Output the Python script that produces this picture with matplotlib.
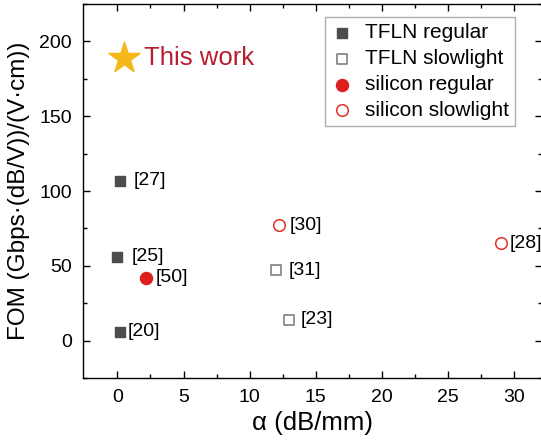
import matplotlib
matplotlib.use("Agg")
import matplotlib.pyplot as plt

plt.rcParams['font.family'] = ['Liberation Sans', 'DejaVu Sans']

# TFLN regular
tfln_reg_x = [0.2, 0.0, 0.2]
tfln_reg_y = [107, 56, 6]
tfln_reg_ref = ["[27]", "[25]", "[20]"]
# TFLN slowlight
tfln_slow_x = [12.0, 13.0]
tfln_slow_y = [47, 14]
tfln_slow_ref = ["[31]", "[23]"]
# silicon regular
si_reg_x = [2.2]
si_reg_y = [42]
si_reg_ref = ["[50]"]
# silicon slowlight
si_slow_x = [12.2, 29.0]
si_slow_y = [77, 65]
si_slow_ref = ["[30]", "[28]"]
# this work
this_x = [0.5]
this_y = [189]

# label offsets in pixels
ref_dx = {"[27]": 14, "[25]": 14, "[20]": 8, "[31]": 13, "[23]": 11,
          "[50]": 9, "[30]": 11, "[28]": 9}

fig = plt.figure(figsize=(5.41, 4.41), dpi=100)
ax = fig.add_axes([83/541, 1-378/441, 459/541, 374/441])

ax.scatter(tfln_reg_x, tfln_reg_y, marker='s', s=55, color='#4d4d4d',
           edgecolor='#4d4d4d', label='TFLN regular', zorder=3)
ax.scatter(tfln_slow_x, tfln_slow_y, marker='s', s=50, facecolor='white',
           edgecolor='#808080', linewidth=1.2, label='TFLN slowlight', zorder=3)
ax.scatter(si_reg_x, si_reg_y, marker='o', s=75, color='#dd1f1c',
           label='silicon regular', zorder=3)
ax.scatter(si_slow_x, si_slow_y, marker='o', s=70, facecolor='white',
           edgecolor='#e0302a', linewidth=1.1, label='silicon slowlight', zorder=3)
ax.scatter(this_x, this_y, marker='*', s=560, color='#f4b81b', zorder=3)

ax.annotate("This work", (this_x[0], this_y[0]), xytext=(20, 0),
            textcoords='offset pixels', ha='left', va='center',
            fontsize=18.5, color='#b5202e')

for xs, ys, refs in [(tfln_reg_x, tfln_reg_y, tfln_reg_ref),
                     (tfln_slow_x, tfln_slow_y, tfln_slow_ref),
                     (si_reg_x, si_reg_y, si_reg_ref),
                     (si_slow_x, si_slow_y, si_slow_ref)]:
    for x, y, r in zip(xs, ys, refs):
        ax.annotate(r, (x, y), xytext=(ref_dx[r], 0), textcoords='offset pixels',
                    ha='left', va='center', fontsize=14)

ax.set_xlim(-2.6, 32.1)
ax.set_ylim(-25, 225)
ax.set_xticks([0, 5, 10, 15, 20, 25, 30])
ax.set_xticks([2.5, 7.5, 12.5, 17.5, 22.5, 27.5], minor=True)
ax.set_yticks([0, 50, 100, 150, 200])
ax.set_yticks([-25, 25, 75, 125, 175, 225], minor=True)
ax.tick_params(which='both', direction='in', top=True, right=True,
               labelsize=14, width=1, pad=8)
ax.tick_params(which='major', length=5)
ax.tick_params(which='minor', length=3)
for sp in ax.spines.values():
    sp.set_linewidth(1)

ax.set_xlabel("α (dB/mm)", fontsize=18.5, labelpad=3.5)
ax.set_ylabel("FOM (Gbps·(dB/V))/(V·cm))", fontsize=17.5, labelpad=7)

leg = ax.legend(loc='upper right', bbox_to_anchor=(0.941, 0.965),
                borderaxespad=0, fontsize=15, frameon=True, fancybox=False,
                edgecolor='#999999', handlelength=1.0, handletextpad=0.6,
                labelspacing=0.33, borderpad=0.3, scatterpoints=1)
leg.get_frame().set_linewidth(1)

fig.savefig("out.png", dpi=100)
